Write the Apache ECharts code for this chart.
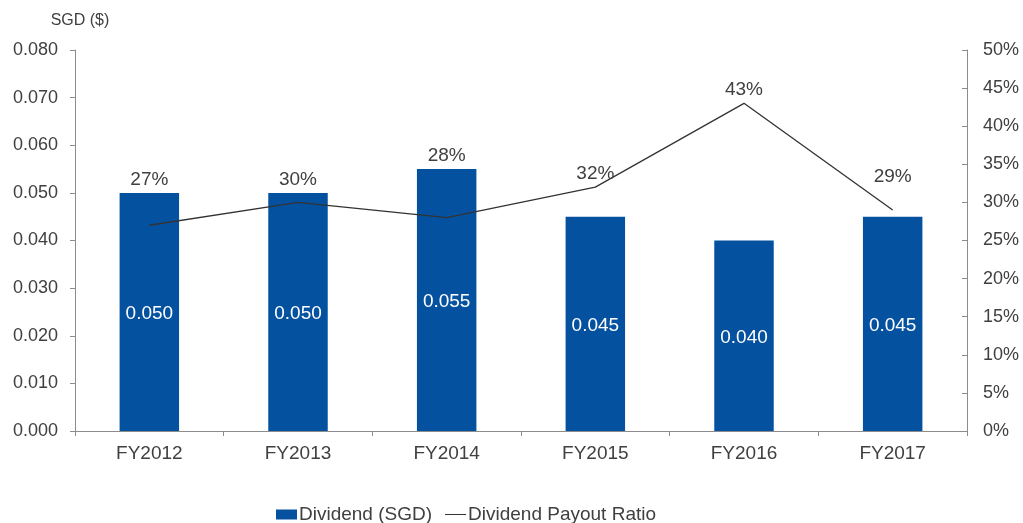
<!DOCTYPE html>
<html>
<head>
<meta charset="utf-8">
<script src="https://cdn.jsdelivr.net/npm/echarts@6/dist/echarts.min.js"></script>
<style>
  html, body { margin: 0; padding: 0; background: #fff; }
  #chart { width: 1023px; height: 523px; }
</style>
</head>
<body>
<div id="chart"></div>
<script>
// data
const categories = ['FY2012', 'FY2013', 'FY2014', 'FY2015', 'FY2016', 'FY2017']
const dividend = [0.050, 0.050, 0.055, 0.045, 0.040, 0.045]
const payoutRatio = [27, 30, 28, 32, 43, 29]

const textColor = '#404040'
const axisColor = '#8c8c8c'
const font = 'Liberation Sans, Arial, sans-serif'

const chart = echarts.init(document.getElementById('chart'))

chart.setOption({
  backgroundColor: '#fff',
  animation: false,
  textStyle: { fontFamily: font },
  grid: { left: 75, right: 56, top: 50, bottom: 92 },
  legend: {
    top: 500,
    left: 271,
    itemWidth: 21,
    itemHeight: 10,
    itemGap: 13,
    textStyle: { fontSize: 19, color: textColor, fontFamily: font, padding: [0, 0, 0, -3] },
    data: [
      { name: 'Dividend (SGD)', icon: 'rect' },
      { name: 'Dividend Payout Ratio', icon: 'path://M0 0H20V1H0Z' }
    ]
  },
  xAxis: {
    type: 'category',
    data: categories,
    axisLine: { lineStyle: { color: axisColor } },
    axisTick: { show: true, length: 5, lineStyle: { color: axisColor } },
    axisLabel: { fontSize: 19, color: textColor, margin: 13 }
  },
  yAxis: [
    {
      type: 'value',
      min: 0,
      max: 0.08,
      interval: 0.01,
      name: 'SGD ($)',
      nameLocation: 'end',
      nameGap: 21,
      nameTextStyle: { fontSize: 16, color: textColor, align: 'center', padding: [0, 0, 0, 10] },
      axisLine: { show: true, lineStyle: { color: axisColor } },
      axisTick: { show: true, length: 5, lineStyle: { color: axisColor } },
      splitLine: { show: false },
      axisLabel: {
        fontSize: 18,
        color: textColor,
        margin: 17,
        formatter: v => v.toFixed(3)
      }
    },
    {
      type: 'value',
      min: 0,
      max: 50,
      interval: 5,
      position: 'right',
      axisLine: { show: true, lineStyle: { color: axisColor } },
      axisTick: { show: true, inside: true, length: 5, lineStyle: { color: axisColor } },
      splitLine: { show: false },
      axisLabel: {
        fontSize: 18,
        color: textColor,
        margin: 16,
        formatter: '{value}%'
      }
    }
  ],
  series: [
    {
      name: 'Dividend (SGD)',
      type: 'bar',
      yAxisIndex: 0,
      barWidth: '40%',
      itemStyle: { color: '#0451a0' },
      label: {
        show: true,
        position: 'inside',
        color: '#fff',
        fontSize: 19,
        offset: [0, 2],
        formatter: p => p.value.toFixed(3)
      },
      data: dividend
    },
    {
      name: 'Dividend Payout Ratio',
      type: 'line',
      yAxisIndex: 1,
      symbol: 'circle',
      symbolSize: 0.1,
      itemStyle: { color: '#333333' },
      lineStyle: { color: '#333333', width: 1.3 },
      label: {
        show: true,
        position: 'top',
        distance: 4,
        color: textColor,
        fontSize: 19,
        formatter: '{c}%'
      },
      data: payoutRatio
    }
  ]
})

// lift each ratio label above whichever is higher: the bar top or the line point,
// and clear the segment coming in from the previous point
const lineData = payoutRatio.map((v, i) => {
  const lineY = chart.convertToPixel({ yAxisIndex: 1 }, v)
  const barY = chart.convertToPixel({ yAxisIndex: 0 }, dividend[i])
  let top = Math.min(lineY, barY)
  if (i > 0) {
    const prevY = chart.convertToPixel({ yAxisIndex: 1 }, payoutRatio[i - 1])
    // line height at roughly the label's left edge
    top = Math.min(top, lineY + (prevY - lineY) * 0.15 - 4)
  }
  return { value: v, label: { offset: [0, top - lineY] } }
})
chart.setOption({ series: [{}, { data: lineData }] })
</script>
</body>
</html>
